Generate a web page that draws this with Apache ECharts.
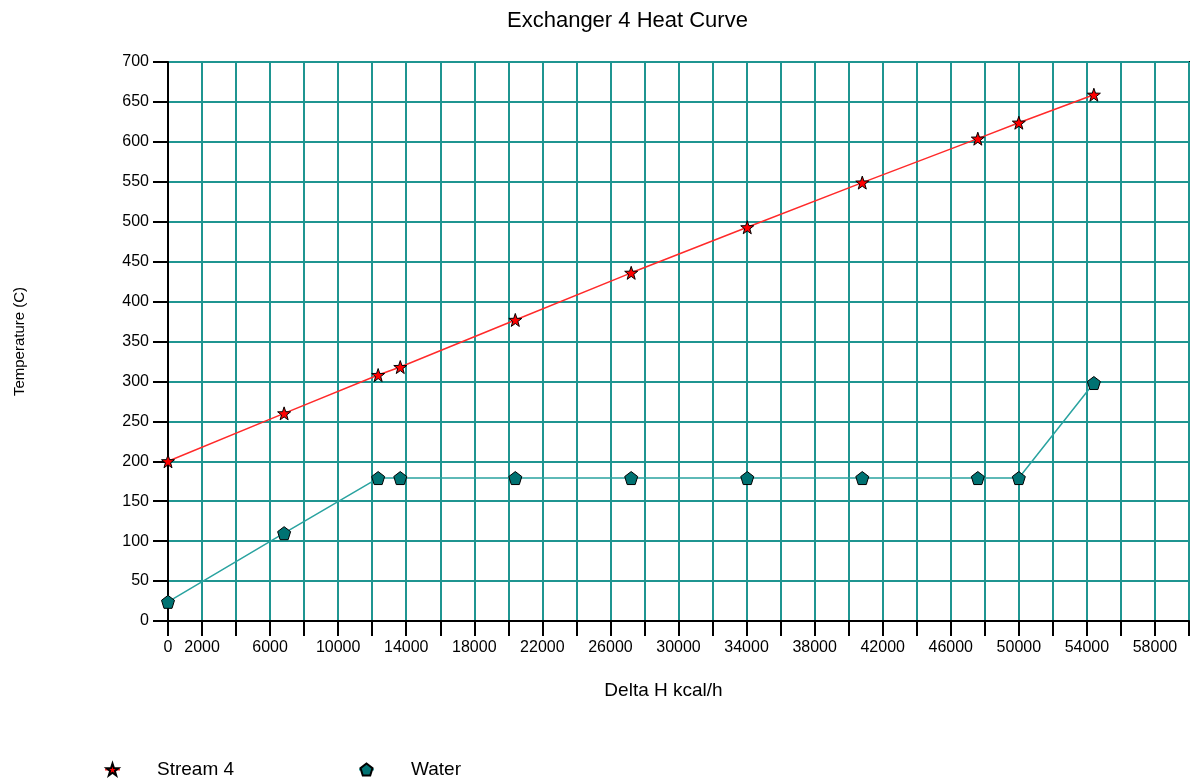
<!DOCTYPE html>
<html>
<head>
<meta charset="utf-8">
<title>Exchanger 4 Heat Curve</title>
<script src="https://cdn.jsdelivr.net/npm/echarts@6/dist/echarts.min.js"></script>
<style>
  html, body { margin: 0; padding: 0; background: #ffffff; }
  #chart { width: 1192px; height: 780px; }
</style>
</head>
<body>
<div id="chart"></div>
<script>
// Heat duty (kcal/h) at each calculation point along the exchanger
var deltaH = [0, 6824, 12350, 13650, 20410, 27220, 34040, 40800, 47590, 50000, 54410];
// Hot side: Stream 4 temperature (C)
var stream4Temp = [200, 260, 308, 318, 377, 436, 493, 549, 604, 624, 659];
// Cold side: Water temperature (C)
var waterTemp = [24, 110, 179, 179, 179, 179, 179, 179, 179, 179, 298];

// X tick labels that are printed (ticks/grid run every 2000)
var xLabelValues = [0, 2000, 6000, 10000, 14000, 18000, 22000, 26000, 30000, 34000,
                    38000, 42000, 46000, 50000, 54000, 58000];

var STAR = 'path://M10 0L12.35 6.76L19.51 6.91L13.8 11.24L15.88 18.09L10 14L4.12 18.09L6.2 11.24L0.49 6.91L7.65 6.76Z';
var PENTAGON = 'path://M10 0L19.51 6.91L15.88 18.09L4.12 18.09L0.49 6.91Z';

function pairs(xs, ys) {
  return xs.map(function (x, i) { return [x, ys[i]]; });
}

var FONT = 'Liberation Sans, Arial, sans-serif';
var GRID_COLOR = '#1f9591';

var chart = echarts.init(document.getElementById('chart'), null, { renderer: 'canvas' });

chart.setOption({
  animation: false,
  backgroundColor: '#ffffff',
  title: {
    text: 'Exchanger 4 Heat Curve',
    left: 502,
    top: 5,
    textStyle: { fontFamily: FONT, fontSize: 22, fontWeight: 'normal', color: '#000' }
  },
  legend: [
    {
      data: ['Stream 4'],
      left: 99, top: 755,
      itemWidth: 15, itemHeight: 15,
      textStyle: { fontFamily: FONT, fontSize: 19, color: '#000', padding: [0, 0, 0, 32] }
    },
    {
      data: ['Water'],
      left: 353, top: 755,
      itemWidth: 15, itemHeight: 15,
      textStyle: { fontFamily: FONT, fontSize: 19, color: '#000', padding: [0, 0, 0, 32] }
    }
  ],
  grid: {
    left: 168, right: 3, top: 62, bottom: 159,
    show: true, borderColor: '#000', borderWidth: 2,
    containLabel: false
  },
  xAxis: {
    type: 'value',
    min: 0, max: 60000, interval: 2000,
    name: 'Delta H kcal/h',
    nameLocation: 'middle',
    nameGap: 60,
    nameTextStyle: { fontFamily: FONT, fontSize: 19, color: '#000', padding: [0, 30, 0, 0] },
    axisLine: { show: true, onZero: false, lineStyle: { color: '#000', width: 2 } },
    axisTick: { show: true, inside: false, length: 15, lineStyle: { color: '#000', width: 2 } },
    axisLabel: {
      margin: 19,
      fontFamily: FONT, fontSize: 16, color: '#000',
      showMaxLabel: true, showMinLabel: true,
      formatter: function (v) {
        return xLabelValues.indexOf(v) >= 0 ? String(v) : '';
      }
    },
    splitLine: { show: true, lineStyle: { color: GRID_COLOR, width: 2 } }
  },
  yAxis: {
    type: 'value',
    min: 0, max: 700, interval: 50,
    name: 'Temperature (C)',
    nameLocation: 'middle',
    nameRotate: 90,
    nameGap: 141,
    nameTextStyle: { fontFamily: FONT, fontSize: 15, color: '#000' },
    axisLine: { show: true, onZero: false, lineStyle: { color: '#000', width: 2 } },
    axisTick: { show: true, inside: false, length: 15, lineStyle: { color: '#000', width: 2 } },
    axisLabel: { margin: 19, fontFamily: FONT, fontSize: 16, color: '#000' },
    splitLine: { show: true, lineStyle: { color: GRID_COLOR, width: 2 } }
  },
  series: [
    {
      name: 'Stream 4',
      type: 'line',
      data: pairs(deltaH, stream4Temp),
      symbol: STAR,
      symbolSize: 13,
      showAllSymbol: true,
      itemStyle: { color: '#ff0000', borderColor: '#000', borderWidth: 1 },
      lineStyle: { color: '#ff2a2a', width: 1.5 },
      z: 3
    },
    {
      name: 'Water',
      type: 'line',
      data: pairs(deltaH, waterTemp),
      symbol: PENTAGON,
      symbolSize: 13,
      showAllSymbol: true,
      itemStyle: { color: '#007272', borderColor: '#000', borderWidth: 1 },
      lineStyle: { color: '#2aa3a0', width: 1.5 },
      z: 3
    }
  ]
});
</script>
</body>
</html>
